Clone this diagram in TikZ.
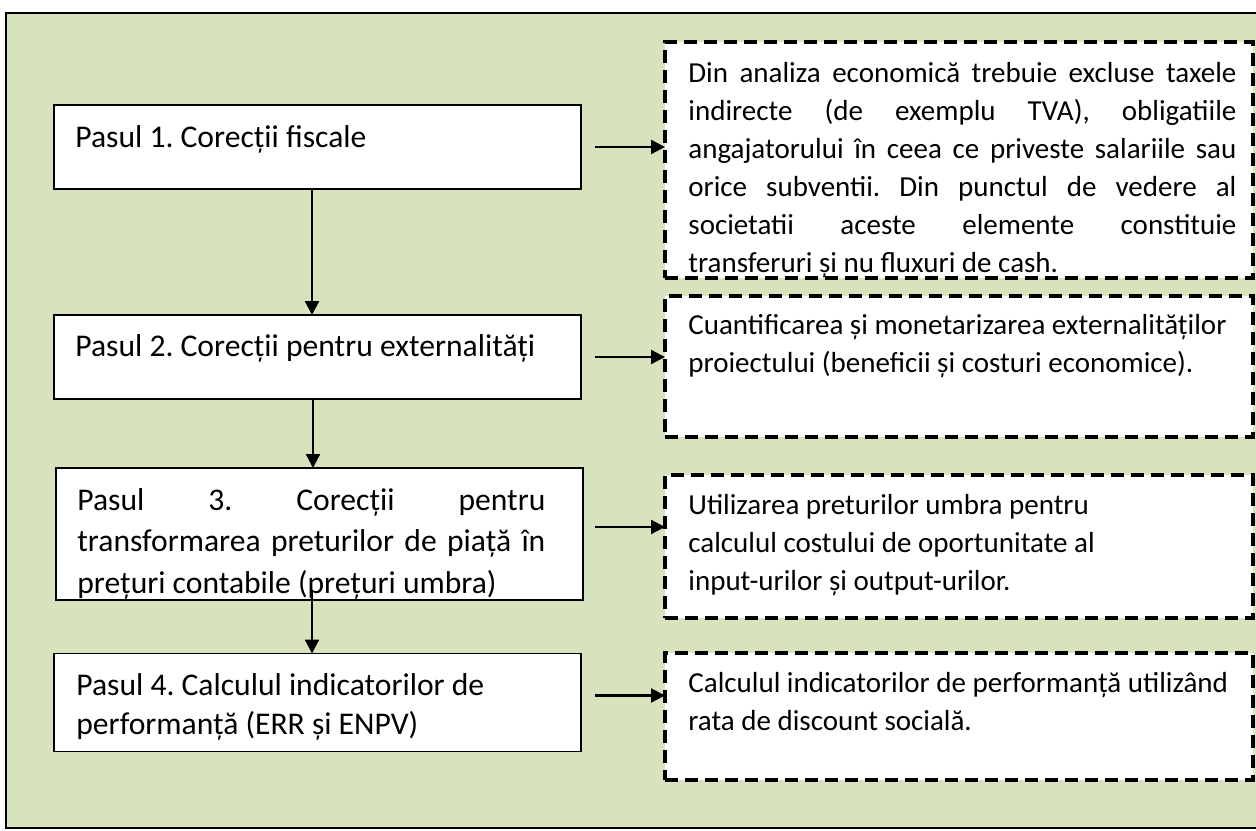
\documentclass[tikz,border=0pt]{standalone}
\usepackage{fontspec}
\setmainfont{Carlito}
\usetikzlibrary{arrows.meta}
\definecolor{panelgreen}{RGB}{214,227,188}
\tikzset{
  pasbox/.style={draw, fill=white, line width=0.9pt, minimum width=263.5pt, outer sep=0pt, inner sep=0pt},
  infobox/.style={draw, fill=white, line width=2pt, dash pattern=on 6.5pt off 3.5pt, minimum width=294pt, outer sep=0pt, inner sep=0pt},
  pastxt/.style={anchor=base west, inner sep=0pt, text width=245pt, align=flush left, font=\fontsize{15.8pt}{19.6pt}\selectfont\frenchspacing},
  infotxt/.style={anchor=base west, inner sep=0pt, text width=280pt, align=flush left, font=\fontsize{14.5pt}{19pt}\selectfont\frenchspacing},
  flow/.style={-{Triangle[length=7pt,width=7pt]}, line width=1.1pt},
}

\begin{document}
\begin{tikzpicture}[x=0.5pt, y=-0.5pt]
\useasboundingbox (0,0) rectangle (1256,830);
\draw[fill=panelgreen, line width=1pt] (6,13) rectangle (1290,828);

% pasii
\node (P1) [pasbox, minimum height=42pt] at (317.5,147) {};
\node (P2) [pasbox, minimum height=42pt] at (317.5,357) {};
\node (P3) [pasbox, minimum height=66pt] at (319.5,534) {};
\node (P4) [pasbox, minimum height=49pt] at (317.5,702.5) {};

% explicatii
\node (D1) [infobox, minimum height=118pt] at (959,160) {};
\node (D2) [infobox, minimum height=70.5pt] at (959,366.5) {};
\node (D3) [infobox, minimum height=71.5pt] at (959,546.5) {};
\node (D4) [infobox, minimum height=63.5pt] at (959,716) {};

% texte
\node (T1) [pastxt] at ([shift={(21,42)}]P1.north west) {Pasul 1. Corecții fiscale};
\node (T2) [pastxt] at ([shift={(21,41)}]P2.north west) {Pasul 2. Corecții pentru externalități};
\node (T3) [pastxt, text width=234pt, align=justify, font=\fontsize{15.8pt}{20.75pt}\selectfont\frenchspacing]
  at ([shift={(21,42)}]P3.north west)
  {Pasul 3. Corecții pentru\linebreak transformarea preturilor de piață în\linebreak prețuri contabile (prețuri umbra)};
\node (T4) [pastxt] at ([shift={(22,42)}]P4.north west) {Pasul 4. Calculul indicatorilor de\\performanță (ERR și ENPV)};

\node (U1) [infotxt, text width=274pt, align=justify] at ([shift={(23,40)}]D1.north west)
  {Din analiza economică trebuie excluse taxele\linebreak indirecte (de exemplu TVA), obligatiile\linebreak angajatorului în ceea ce priveste salariile sau\linebreak orice subventii. Din punctul de vedere al\linebreak societatii aceste elemente constituie\linebreak transferuri și nu fluxuri de cash.};
\node (U2) [infotxt] at ([shift={(23,38)}]D2.north west) {Cuantificarea și monetarizarea externalităților\\proiectului (beneficii și costuri economice).};
\node (U3) [infotxt] at ([shift={(23,39)}]D3.north west) {Utilizarea preturilor umbra pentru\\calculul costului de oportunitate al\\input-urilor și output-urilor.};
\node (U4) [infotxt] at ([shift={(23,40)}]D4.north west) {Calculul indicatorilor de performanță utilizând\\rata de discount socială.};

% sageti
\draw[flow] ([xshift=-2.75pt]P1.south) -- ([xshift=-2.75pt]P2.north);
\draw[flow] ([xshift=-2.25pt]P2.south) -- ([xshift=-3.25pt]P3.north);
\draw[flow] ([xshift=-3.75pt,yshift=5pt]P3.south) -- ([xshift=-2.75pt]P4.north);

\draw[flow, shorten <=7pt] (P1.east) -- (P1.east -| D1.west);
\draw[flow, shorten <=7pt] (P2.east) -- (P2.east -| D2.west);
\draw[flow, shorten <=6pt] ([yshift=3.5pt]P3.east) -- ([yshift=3.5pt]P3.east -| D3.west);
\draw[flow, shorten <=7pt] ([yshift=3.5pt]P4.east) -- ([yshift=3.5pt]P4.east -| D4.west);
\end{tikzpicture}
\end{document}
